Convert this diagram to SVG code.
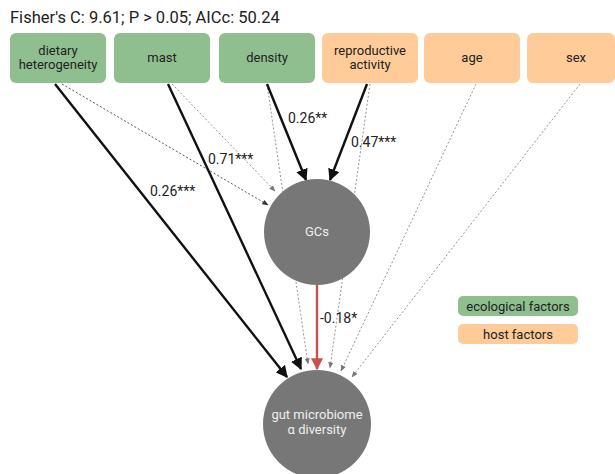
<svg xmlns="http://www.w3.org/2000/svg" width="615" height="474" viewBox="0 0 615 474">
<defs>
<marker id="ab" viewBox="0 0 10 10" refX="9" refY="5" markerWidth="5" markerHeight="5" markerUnits="strokeWidth" orient="auto"><path d="M0,0 L10,5 L0,10 z" fill="#111"/></marker>
<marker id="ar" viewBox="0 0 10 10" refX="9" refY="5" markerWidth="5" markerHeight="5" markerUnits="strokeWidth" orient="auto"><path d="M0,0 L10,5 L0,10 z" fill="#c9504c"/></marker>
<marker id="ag" viewBox="0 0 10 10" refX="9" refY="5" markerWidth="7" markerHeight="7" markerUnits="strokeWidth" orient="auto"><path d="M0,1 L10,5 L0,9 z" fill="#777"/></marker>
<marker id="ak" viewBox="0 0 10 10" refX="9" refY="5" markerWidth="7" markerHeight="7" markerUnits="strokeWidth" orient="auto"><path d="M0,1 L10,5 L0,9 z" fill="#333"/></marker>
</defs>
<style>
.t{font-family:Roboto,"Liberation Sans",sans-serif;fill:#222}
.eco{fill:#8fbf8f}
.host{fill:#fecb99}
.box{font-size:13px;text-anchor:middle}
.lab{font-size:14px}
.solid{stroke:#111;stroke-width:2.4;fill:none;marker-end:url(#ab)}
.dot{stroke:#888;stroke-width:0.9;stroke-dasharray:2,2;fill:none;marker-end:url(#ag)}
.dk{stroke:#444;marker-end:url(#ak)}
.circ{fill:#777}
.ct{font-family:Roboto,"Liberation Sans",sans-serif;fill:#eee;font-size:13px;text-anchor:middle}
</style>
<rect width="615" height="474" fill="#fff"/>
<text class="t" x="10" y="23" font-size="16.5">Fisher's C: 9.61; P &gt; 0.05; AICc: 50.24</text>

<g id="connectors">
<line class="dot dk" x1="62" y1="84" x2="268" y2="205"/>
<line class="dot" x1="172" y1="84" x2="275" y2="191"/>
<line class="dot" x1="267" y1="84" x2="308" y2="364"/>
<line class="dot" x1="370" y1="84" x2="330" y2="368"/>
<line class="dot" x1="476" y1="84" x2="341" y2="371"/>
<line class="dot" x1="580" y1="84" x2="352" y2="377"/>
<line class="solid" x1="55" y1="84" x2="287" y2="377"/>
<line class="solid" x1="168" y1="84" x2="301" y2="369"/>
<line class="solid" x1="267" y1="84" x2="306" y2="180"/>
<line class="solid" x1="367" y1="84" x2="330" y2="180"/>
<line x1="317" y1="285" x2="317" y2="369" stroke="#c9504c" stroke-width="2.4" marker-end="url(#ar)"/>
<text class="t lab" x="150" y="196">0.26***</text>
<text class="t lab" x="208" y="164">0.71***</text>
<text class="t lab" x="288" y="123">0.26**</text>
<text class="t lab" x="351" y="147">0.47***</text>
<text class="t lab" x="320" y="323">-0.18*</text>
</g>

<g id="n-dietary"><rect class="eco" x="10" y="33" width="96" height="50" rx="6"/><text class="t box" x="58" y="55">dietary</text><text class="t box" x="58" y="69">heterogeneity</text></g>
<g id="n-mast"><rect class="eco" x="114" y="33" width="96" height="50" rx="6"/><text class="t box" x="162" y="62">mast</text></g>
<g id="n-density"><rect class="eco" x="219" y="33" width="96" height="50" rx="6"/><text class="t box" x="267" y="62">density</text></g>
<g id="n-repro"><rect class="host" x="322" y="33" width="96" height="50" rx="6"/><text class="t box" x="370" y="55">reproductive</text><text class="t box" x="370" y="69">activity</text></g>
<g id="n-age"><rect class="host" x="424" y="33" width="96" height="50" rx="6"/><text class="t box" x="472" y="62">age</text></g>
<g id="n-sex"><rect class="host" x="527" y="33" width="88" height="50" rx="6"/><text class="t box" x="576" y="62">sex</text></g>

<g id="n-gcs"><circle class="circ" cx="317" cy="232" r="53"/><text class="ct" x="317" y="236">GCs</text></g>
<g id="n-gut"><circle class="circ" cx="317" cy="424" r="54"/><text class="ct" x="317" y="419">gut microbiome</text><text class="ct" x="317" y="434">α diversity</text></g>

<g id="legend">
<rect class="eco" x="458" y="296" width="120" height="20" rx="5"/><text class="t" x="518" y="311" font-size="13" text-anchor="middle">ecological factors</text>
<rect class="host" x="458" y="324" width="120" height="20" rx="5"/><text class="t" x="518" y="339" font-size="13" text-anchor="middle">host factors</text>
</g>
</svg>
